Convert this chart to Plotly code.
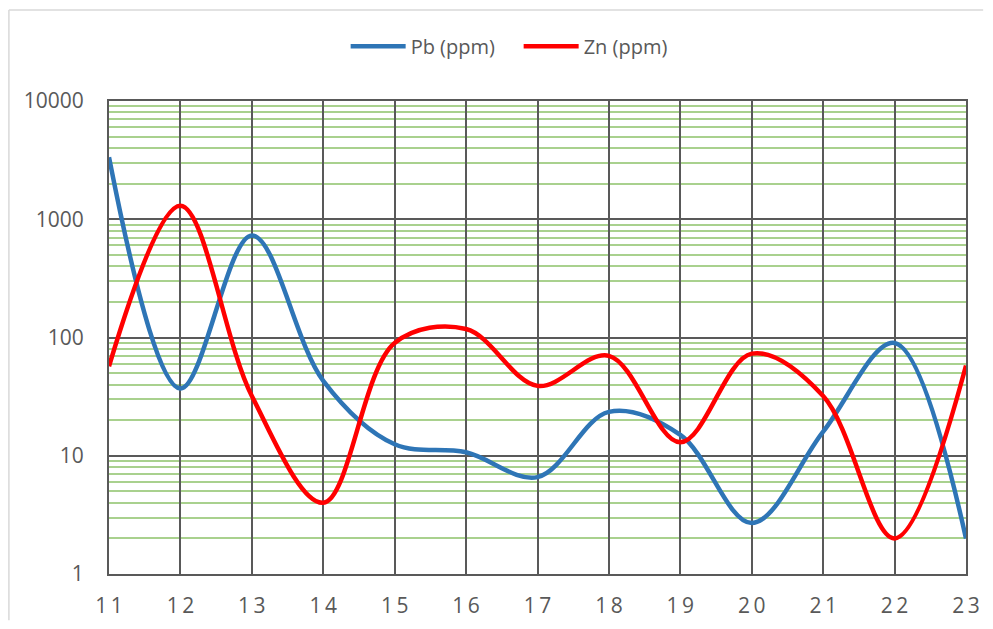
import plotly.graph_objects as go

x_vals = [11, 12, 13, 14, 15, 16, 17, 18, 19, 20, 21, 22, 23]
pb_ppm = [3350, 37, 730, 43, 12.5, 10.7, 6.6, 23.5, 15, 2.7, 16, 90, 2.0]
zn_ppm = [57, 1300, 32, 4.0, 90, 118, 39, 70, 13, 73, 32, 2.0, 58]

x_ticks = [11, 12, 13, 14, 15, 16, 17, 18, 19, 20, 21, 22, 23]
x_ticktext = ["1\u20091", "1\u20092", "1\u20093", "1\u20094", "1\u20095", "1\u20096", "1\u20097",
              "1\u20098", "1\u20099", "2\u20090", "2\u20091", "2\u20092", "2\u20093"]
y_ticks = [1, 10, 100, 1000, 10000]
y_ticktext = ["1", "10", "100", "1000", "10000"]
y_minor = [m * d for d in [1, 10, 100, 1000] for m in range(2, 10)]

fig = go.Figure()
fig.add_trace(go.Scatter(x=x_vals, y=pb_ppm, name="Pb (ppm)", mode="lines",
                         line=dict(color="#2E75B6", width=4.5, shape="spline", smoothing=1)))
fig.add_trace(go.Scatter(x=x_vals, y=zn_ppm, name="Zn (ppm)", mode="lines",
                         line=dict(color="#FF0000", width=4.5, shape="spline", smoothing=1)))

grid_dark = "#595959"
fig.update_layout(
    width=977, height=613,
    margin=dict(l=101, r=19, t=93, b=47, autoexpand=False),
    paper_bgcolor="white", plot_bgcolor="white",
    font=dict(family="Open Sans, DejaVu Sans, sans-serif", size=20, color="#595959"),
    legend=dict(orientation="h", x=0.478, xanchor="center", y=1.116, yanchor="middle",
                font=dict(size=20, color="#595959"), itemwidth=55,
                entrywidth=103, entrywidthmode="pixels",
                bgcolor="rgba(0,0,0,0)"),
    showlegend=True,
    xaxis=dict(range=[11, 23], tickvals=x_ticks, ticktext=x_ticktext, showgrid=True,
               gridcolor=grid_dark, gridwidth=2, showline=True, linecolor=grid_dark,
               linewidth=2, mirror=True, ticks="", zeroline=False, ticklabelstandoff=12,
               automargin=False, tickfont=dict(size=21, color="#595959")),
    yaxis=dict(type="log", range=[0, 4], tickvals=y_ticks, ticktext=y_ticktext,
               showgrid=True, gridcolor=grid_dark, gridwidth=2, showline=True,
               linecolor=grid_dark, linewidth=2, mirror=True, ticks="", zeroline=False,
               ticklabelstandoff=19, automargin=False, tickfont=dict(size=21, color="#595959")),
)
fig.update_yaxes(minor=dict(tickvals=y_minor, showgrid=True, gridcolor="#A9D18E",
                            gridwidth=1.5, ticks=""))
# Outer chart border: only the top and left edges are visible in the picture
fig.add_shape(type="line", xref="paper", yref="paper", x0=-0.1168, x1=1.02, y0=1.1924, y1=1.1924,
              line=dict(color="#D9D9D9", width=1.5), layer="below")
fig.add_shape(type="line", xref="paper", yref="paper", x0=-0.1168, x1=-0.1168, y0=-0.098, y1=1.1924,
              line=dict(color="#D9D9D9", width=1.5), layer="below")
fig.write_html("out.html")
